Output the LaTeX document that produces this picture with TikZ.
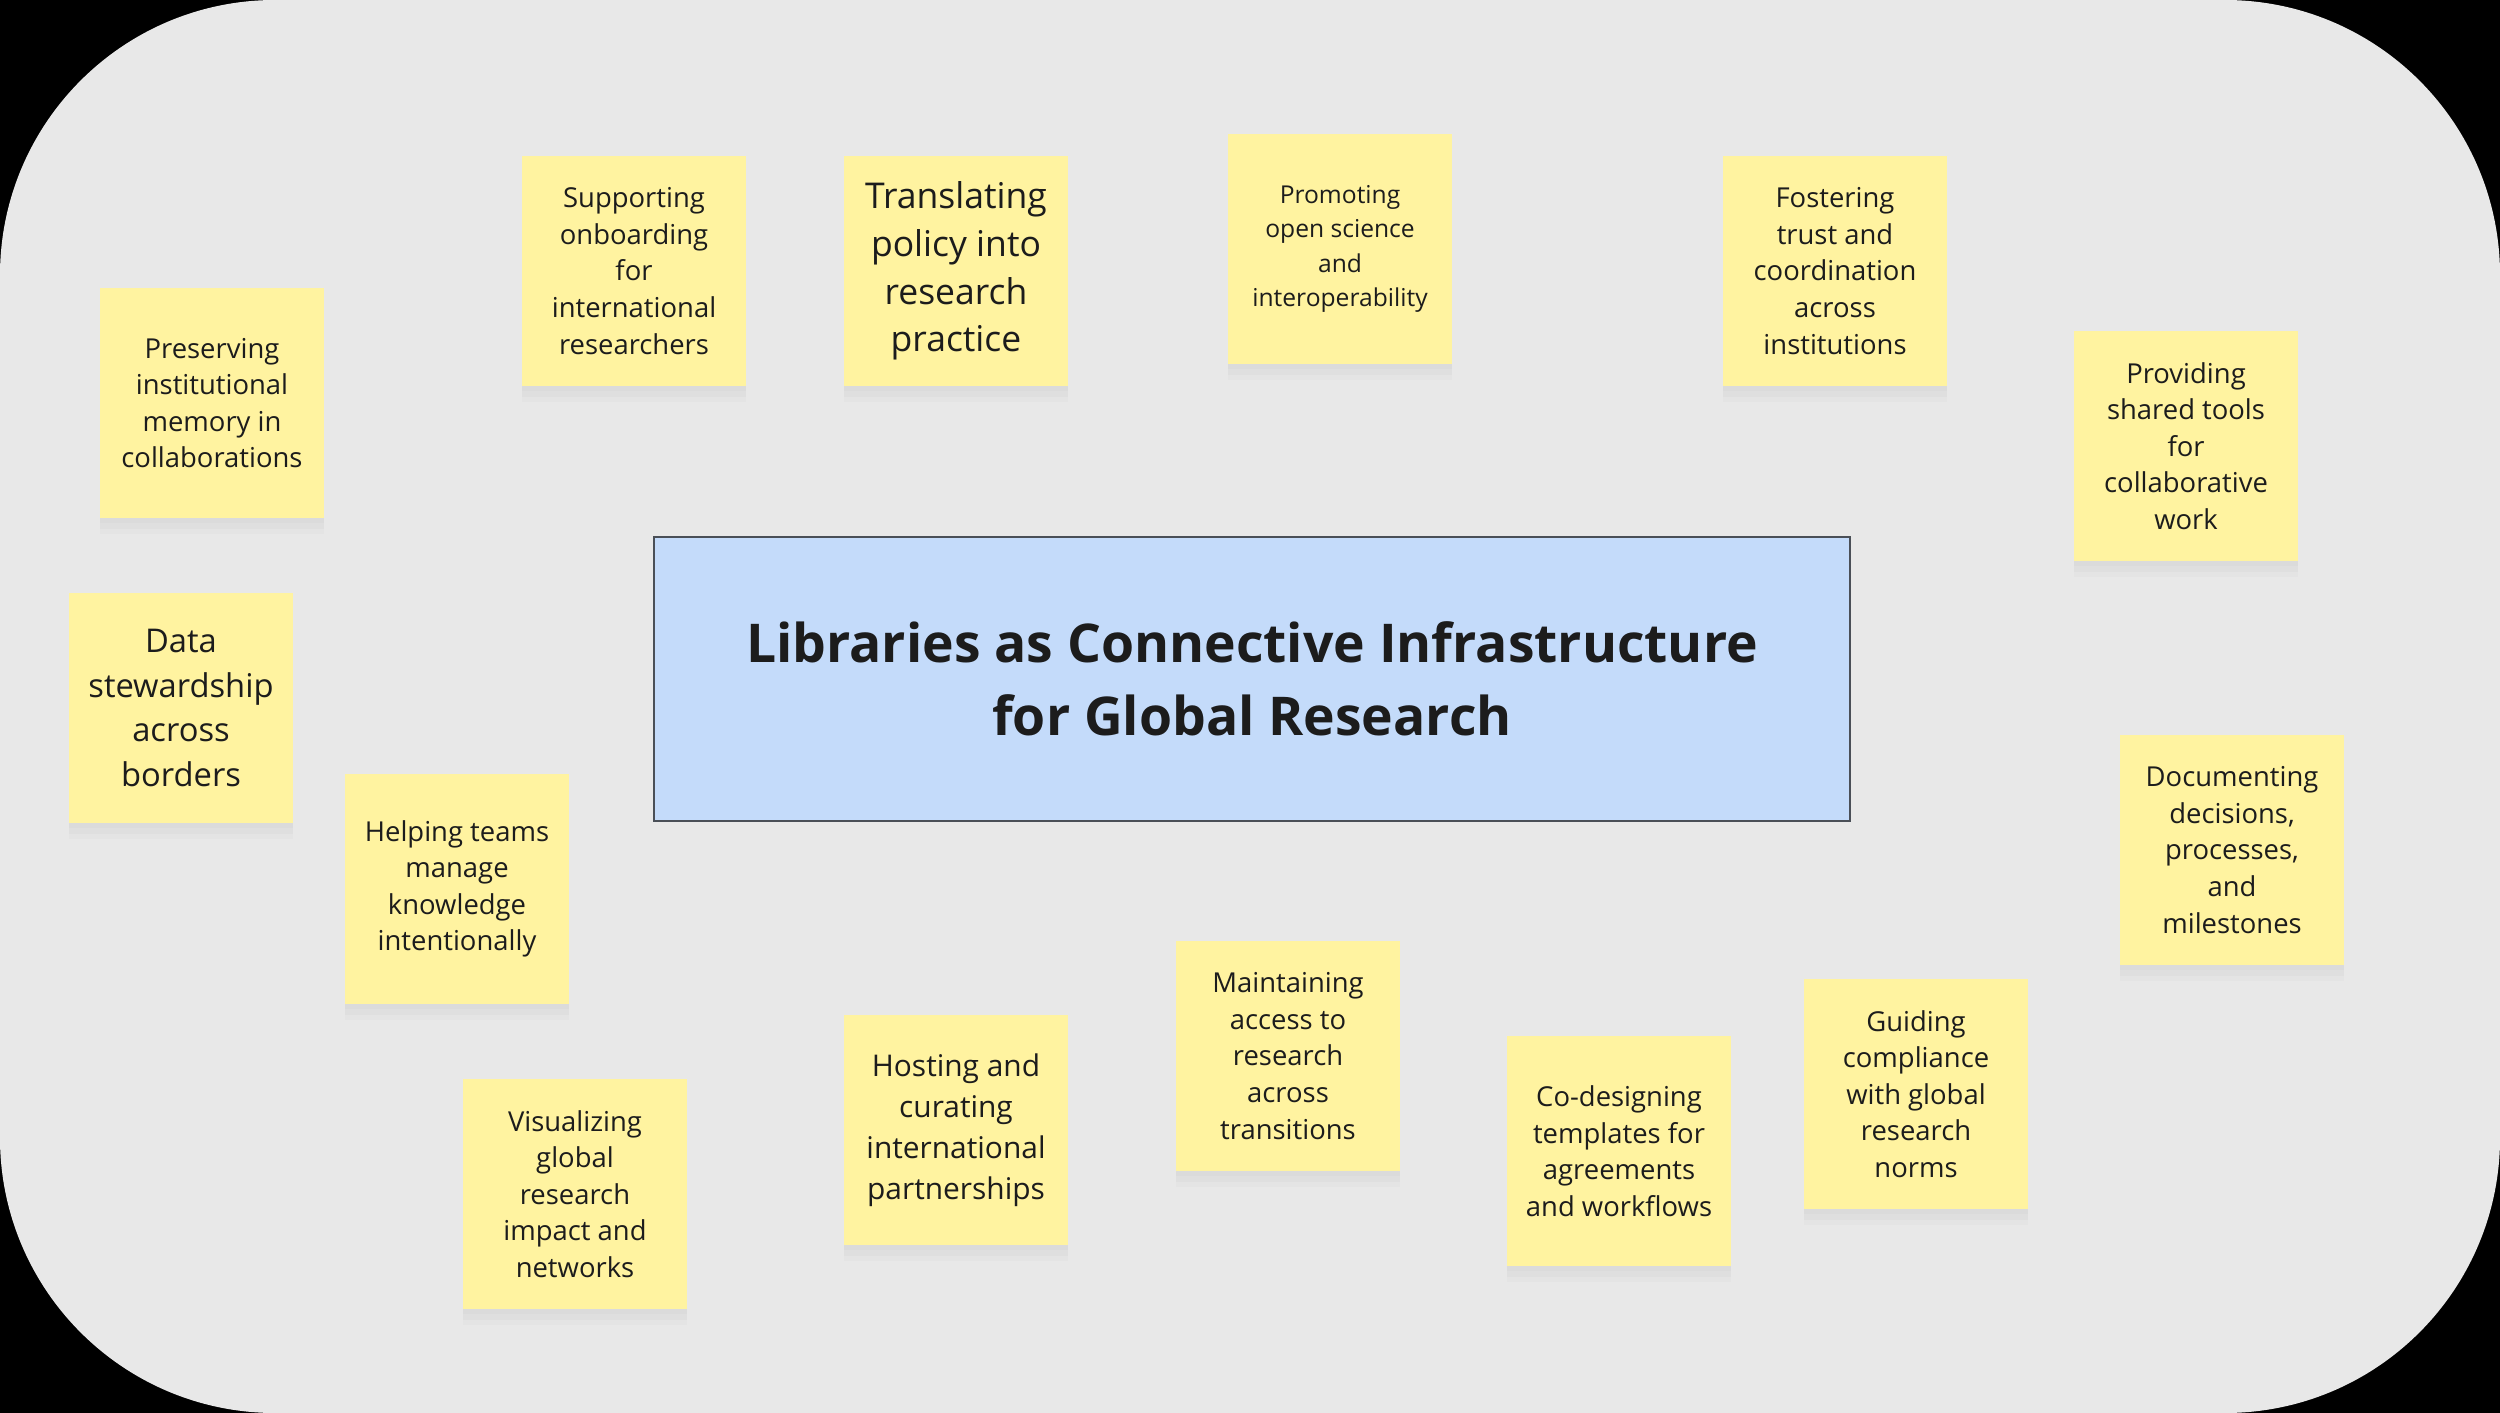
\documentclass[tikz,border=0pt]{standalone}
\usepackage{fontspec}
\setmainfont{Open Sans}
\usepackage{tikz}
\usetikzlibrary{positioning,shadows}
\definecolor{boardbg}{HTML}{E8E8E8}
\definecolor{notecol}{HTML}{FFF3A0}
\definecolor{titlecol}{HTML}{C4DBFA}
\definecolor{titleline}{HTML}{4A4F57}
\definecolor{inkcol}{HTML}{1C1C1C}
\newcommand{\notesize}[2]{\fontsize{#1}{#2}\selectfont}

\begin{document}
\begin{tikzpicture}[x=0.01cm,y=-0.01cm,
  note/.style={fill=notecol,minimum width=2.23cm,minimum height=2.3cm,
    align=center,text=inkcol,inner sep=2pt,font=\notesize{7.8}{10.4},
    drop shadow={shadow xshift=0pt,shadow yshift=-1.5pt,opacity=0.05},
    drop shadow={shadow xshift=0pt,shadow yshift=-3pt,opacity=0.04},
    drop shadow={shadow xshift=0pt,shadow yshift=-4.5pt,opacity=0.03}},
  bignote/.style={note,font=\notesize{10.1}{13.6}},
  hub/.style={draw=titleline,fill=titlecol,minimum width=11.95cm,
    minimum height=2.84cm,align=center,text=inkcol,
    font=\bfseries\notesize{15.2}{20.8}},
]
% board
\fill[black] (0,0) rectangle (2500,1413);
\fill[boardbg,rounded corners=2.75cm] (0,0) rectangle (2500,1413);
\useasboundingbox (0,0) rectangle (2500,1413);

% centre
\node[hub] (hub) at (1252,679) {Libraries as Connective Infrastructure\\ for Global Research};

% top row
\node[note] (memory) at (212,403) {Preserving\\ institutional\\ memory in\\ collaborations};
\node[note] (onboard) at (634,271) {Supporting\\ onboarding\\ for\\ international\\ researchers};
\node[bignote] (policy) at (956,271) {Translating\\ policy into\\ research\\ practice};
\node[note,font=\notesize{7.0}{9.8}] (open) at (1340,249) {Promoting\\ open science\\ and\\ interoperability};
\node[note] (trust) at (1835,271) {Fostering\\ trust and\\ coordination\\ across\\ institutions};
\node[note] (tools) at (2186,446) {Providing\\ shared tools\\ for\\ collaborative\\ work};

% sides
\node[note,font=\notesize{9.3}{12.7}] (stewards) at (181,708) {Data\\ stewardship\\ across\\ borders};
\node[note] (knowledge) at (457,889) {Helping teams\\ manage\\ knowledge\\ intentionally};
\node[note] (documents) at (2232,850) {Documenting\\ decisions,\\ processes,\\ and\\ milestones};

% bottom row
\node[note] (impact) at (575,1194) {Visualizing\\ global\\ research\\ impact and\\ networks};
\node[note,font=\notesize{8.5}{11.7}] (hosting) at (956,1130) {Hosting and\\ curating\\ international\\ partnerships};
\node[note] (access) at (1288,1056) {Maintaining\\ access to\\ research\\ across\\ transitions};
\node[note] (templates) at (1619,1151) {Co-designing\\ templates for\\ agreements\\ and workflows};
\node[note] (norms) at (1916,1094) {Guiding\\ compliance\\ with global\\ research\\ norms};
\end{tikzpicture}
\end{document}
